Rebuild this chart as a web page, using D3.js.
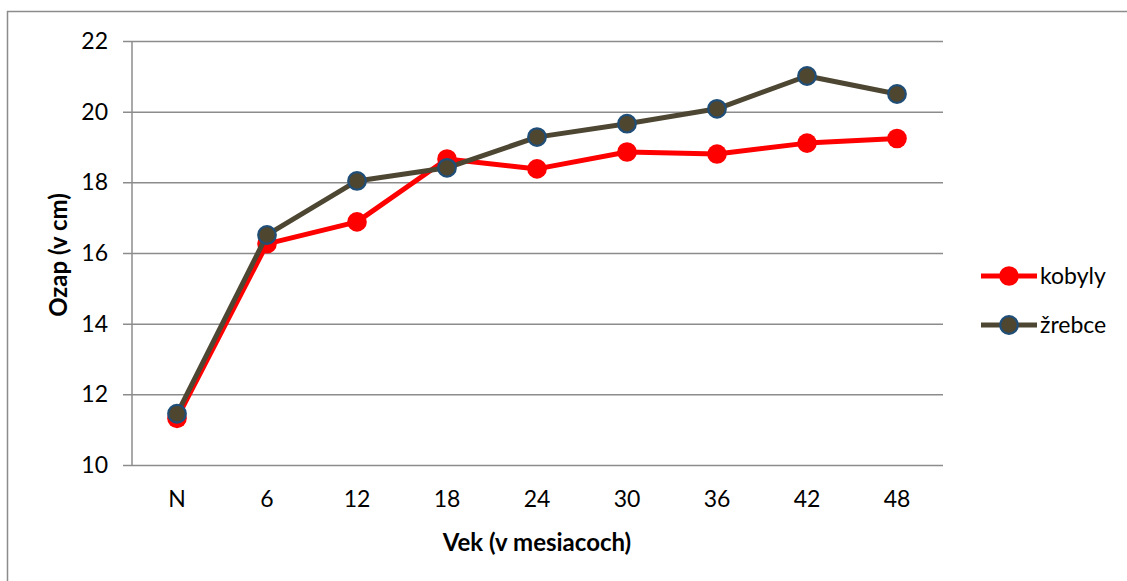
<!DOCTYPE html>
<html>
<head>
<meta charset="utf-8">
<script src="https://cdn.jsdelivr.net/npm/d3@7"></script>
<style>
  html, body { margin: 0; padding: 0; background: #fff; }
  svg { display: block; font-family: Lato, "Open Sans", sans-serif; }
</style>
</head>
<body>
<svg id="chart" width="1127" height="581"></svg>
<script>
// Categories (age in months) and measured values per group
const categories = ["N", "6", "12", "18", "24", "30", "36", "42", "48"];
const kobyly = [11.32, 16.26, 16.88, 18.66, 18.38, 18.86, 18.80, 19.11, 19.24];
const zrebce = [11.45, 16.51, 18.04, 18.41, 19.28, 19.66, 20.08, 21.01, 20.50];
const yTicks = [10, 12, 14, 16, 18, 20, 22];
const seriesNames = ["kobyly", "žrebce"];

const FS = 23;
const svg = d3.select("#chart");

// Outer chart frame
svg.append("rect")
  .attr("x", 7.5).attr("y", 11.5)
  .attr("width", 1200).attr("height", 700)
  .attr("fill", "none").attr("stroke", "#8c8c8c").attr("stroke-width", 1.5);

const plot = { left: 132, right: 942, top: 41, bottom: 465 };

const x = d3.scaleBand().domain(categories).range([plot.left, plot.right]);
const y = d3.scaleLinear().domain([10, 22]).range([plot.bottom, plot.top]);

// Horizontal gridlines with y-axis labels
const yAxis = d3.axisLeft(y).tickValues(yTicks)
  .tickSize(-(plot.right - plot.left) - 1).tickPadding(24).tickFormat(d3.format("d"));
const gy = svg.append("g").attr("transform", `translate(${plot.left},0)`).call(yAxis);
gy.select(".domain").remove();
gy.selectAll(".tick line").attr("stroke", "#8c8c8c").attr("stroke-width", 1.5)
  .attr("x1", -9);
gy.selectAll(".tick text").attr("font-size", FS).attr("fill", "#000")
  .attr("font-family", "Lato, sans-serif");

// Vertical axis line
svg.append("line")
  .attr("x1", plot.left).attr("x2", plot.left)
  .attr("y1", plot.top).attr("y2", plot.bottom)
  .attr("stroke", "#8c8c8c").attr("stroke-width", 1.5);

// Category labels
const xAxis = d3.axisBottom(x).tickSize(0).tickPadding(26);
const gx = svg.append("g").attr("transform", `translate(0,${plot.bottom})`).call(xAxis);
gx.select(".domain").remove();
gx.selectAll(".tick text").attr("font-size", FS).attr("fill", "#000")
  .attr("font-family", "Lato, sans-serif");

// Axis titles
svg.append("text")
  .attr("x", (plot.left + plot.right) / 2).attr("y", 551)
  .attr("text-anchor", "middle").attr("font-size", FS + 1).attr("font-weight", "bold")
  .text("Vek (v mesiacoch)");
svg.append("text")
  .attr("transform", `translate(67,${(plot.top + plot.bottom) / 2 + 2}) rotate(-90)`)
  .attr("text-anchor", "middle").attr("font-size", FS + 1).attr("font-weight", "bold")
  .text("Ozap (v cm)");

const styles = [
  { line: "#ff0000", fill: "#ff0000", stroke: "#ff0000", sw: 0 },
  { line: "#4d4632", fill: "#4f4630", stroke: "#1f4e79", sw: 2.2 }
];
const data = [kobyly, zrebce];

const line = d3.line()
  .x((d, i) => x(categories[i]) + x.bandwidth() / 2)
  .y(d => y(d));

data.forEach((vals, s) => {
  const st = styles[s];
  svg.append("path").datum(vals)
    .attr("d", line).attr("fill", "none")
    .attr("stroke", st.line).attr("stroke-width", 5).attr("stroke-linejoin", "round");
  svg.append("g").selectAll("circle").data(vals).join("circle")
    .attr("cx", (d, i) => x(categories[i]) + x.bandwidth() / 2)
    .attr("cy", d => y(d))
    .attr("r", st.sw ? 8.8 : 9.8)
    .attr("fill", st.fill)
    .attr("stroke", st.stroke).attr("stroke-width", st.sw);
});

// Legend
const legend = svg.append("g");
seriesNames.forEach((name, s) => {
  const st = styles[s];
  const ly = 276 + s * 49;
  legend.append("line")
    .attr("x1", 981).attr("x2", 1037).attr("y1", ly).attr("y2", ly)
    .attr("stroke", st.line).attr("stroke-width", 5);
  legend.append("circle")
    .attr("cx", 1009).attr("cy", ly).attr("r", st.sw ? 8.8 : 9.8)
    .attr("fill", st.fill).attr("stroke", st.stroke).attr("stroke-width", st.sw);
  legend.append("text")
    .attr("x", 1040).attr("y", ly).attr("dy", "0.35em")
    .attr("font-size", FS).text(name);
});
</script>
</body>
</html>
